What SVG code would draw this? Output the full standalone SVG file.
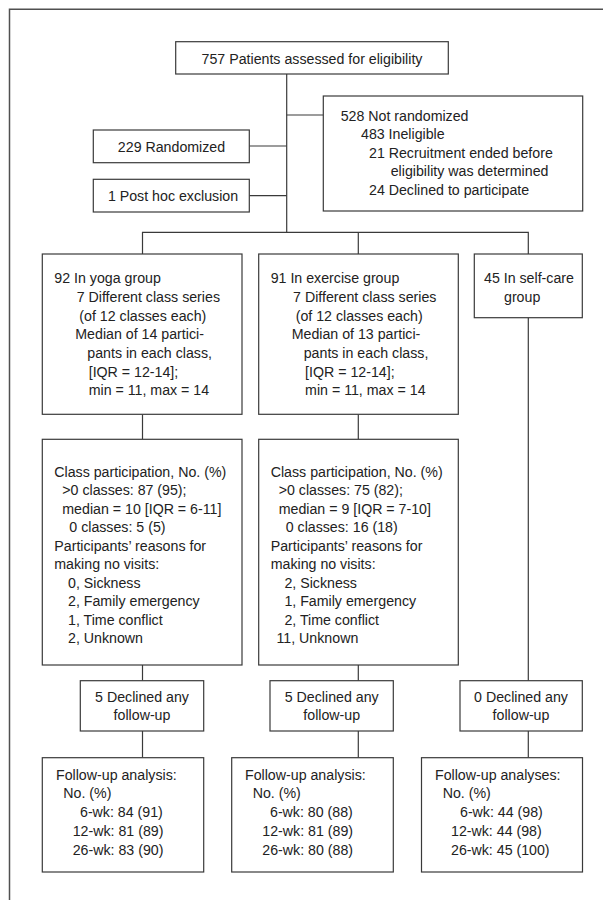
<svg xmlns="http://www.w3.org/2000/svg" width="603" height="900" viewBox="0 0 603 900">
<style>
  .box { fill: #ffffff; stroke: #3a3a3a; stroke-width: 1.2; }
  .ln { fill: none; stroke: #3a3a3a; stroke-width: 1.2; }
  .frame { fill: none; stroke: #505050; stroke-width: 1.5; }
  text { font-family: "Liberation Sans", Arial, sans-serif; font-size: 15px; fill: #222222; }
  .c { text-anchor: middle; }
</style>
<rect x="0" y="0" width="603" height="900" fill="#ffffff"/>
<path class="frame" d="M9.5,900 V9.2 H603"/>

<g id="connectors">
  <path class="ln" d="M286.7,74 V232.3"/>
  <path class="ln" d="M286.7,115 H323.3"/>
  <path class="ln" d="M249.3,146 H286.7"/>
  <path class="ln" d="M249.3,195.7 H286.7"/>
  <path class="ln" d="M142.5,254 V232.3 H528.3 V254"/>
  <path class="ln" d="M358.3,232.3 V254"/>
  <path class="ln" d="M142.5,414.3 V439.3"/>
  <path class="ln" d="M142.5,665 V680.7"/>
  <path class="ln" d="M142.5,731 V757.7"/>
  <path class="ln" d="M358.3,414.3 V439.3"/>
  <path class="ln" d="M358.3,665 V680.7"/>
  <path class="ln" d="M358.3,731 V757.7"/>
  <path class="ln" d="M528.3,317.7 V680.7"/>
  <path class="ln" d="M528.3,731 V757.7"/>
</g>

<g id="assessed">
  <rect class="box" x="175.7" y="41.7" width="272.6" height="32.3"/>
  <text class="c" x="0" y="64" transform="matrix(0.947,0,0,1,312,0)">757 Patients assessed for eligibility</text>
</g>

<g id="not-randomized">
  <rect class="box" x="323.3" y="96" width="259.4" height="115"/>
  <text x="0" y="120.7" transform="matrix(0.947,0,0,1,340.7,0)">528 Not randomized</text>
  <text x="0" y="139.3" transform="matrix(0.947,0,0,1,361,0)">483 Ineligible</text>
  <text x="0" y="157.9" transform="matrix(0.947,0,0,1,369,0)">21 Recruitment ended before</text>
  <text x="0" y="176.5" transform="matrix(0.947,0,0,1,390.7,0)">eligibility was determined</text>
  <text x="0" y="195.1" transform="matrix(0.947,0,0,1,369,0)">24 Declined to participate</text>
</g>

<g id="randomized">
  <rect class="box" x="93.3" y="130" width="156" height="32.7"/>
  <text class="c" x="0" y="152" transform="matrix(0.947,0,0,1,171.5,0)">229 Randomized</text>
</g>

<g id="post-hoc">
  <rect class="box" x="93.3" y="179.3" width="156" height="32.7"/>
  <text class="c" x="0" y="201.5" transform="matrix(0.947,0,0,1,173,0)">1 Post hoc exclusion</text>
</g>

<g id="yoga">
  <rect class="box" x="42.3" y="254" width="199.7" height="160.3"/>
  <text x="0" y="283.3" transform="matrix(0.947,0,0,1,54.3,0)">92 In yoga group</text>
  <text x="0" y="302" transform="matrix(0.947,0,0,1,76.7,0)">7 Different class series</text>
  <text x="0" y="320.7" transform="matrix(0.947,0,0,1,79.3,0)">(of 12 classes each)</text>
  <text x="0" y="339.4" transform="matrix(0.947,0,0,1,75.3,0)">Median of 14 partici-</text>
  <text x="0" y="358.1" transform="matrix(0.947,0,0,1,87.3,0)">pants in each class,</text>
  <text x="0" y="376.8" transform="matrix(0.947,0,0,1,88.7,0)">[IQR = 12-14];</text>
  <text x="0" y="395.5" transform="matrix(0.947,0,0,1,88.7,0)">min = 11, max = 14</text>
</g>

<g id="exercise">
  <rect class="box" x="258.7" y="254" width="199.6" height="160.3"/>
  <text x="0" y="283.3" transform="matrix(0.947,0,0,1,270.7,0)">91 In exercise group</text>
  <text x="0" y="302" transform="matrix(0.947,0,0,1,293.1,0)">7 Different class series</text>
  <text x="0" y="320.7" transform="matrix(0.947,0,0,1,295.7,0)">(of 12 classes each)</text>
  <text x="0" y="339.4" transform="matrix(0.947,0,0,1,291.7,0)">Median of 13 partici-</text>
  <text x="0" y="358.1" transform="matrix(0.947,0,0,1,303.7,0)">pants in each class,</text>
  <text x="0" y="376.8" transform="matrix(0.947,0,0,1,305.1,0)">[IQR = 12-14];</text>
  <text x="0" y="395.5" transform="matrix(0.947,0,0,1,305.1,0)">min = 11, max = 14</text>
</g>

<g id="self-care">
  <rect class="box" x="474.3" y="254" width="108" height="63.7"/>
  <text x="0" y="283.3" transform="matrix(0.947,0,0,1,484,0)">45 In self-care</text>
  <text x="0" y="302" transform="matrix(0.947,0,0,1,504,0)">group</text>
</g>

<g id="yoga-participation">
  <rect class="box" x="42.3" y="439.3" width="199.7" height="225.7"/>
  <text x="0" y="477" transform="matrix(0.947,0,0,1,54.3,0)">Class participation, No. (%)</text>
  <text x="0" y="495.5" transform="matrix(0.947,0,0,1,62.3,0)">&gt;0 classes: 87 (95);</text>
  <text x="0" y="514" transform="matrix(0.947,0,0,1,62.3,0)">median = 10 [IQR = 6-11]</text>
  <text x="0" y="532.5" transform="matrix(0.947,0,0,1,69.3,0)">0 classes: 5 (5)</text>
  <text x="0" y="551" transform="matrix(0.947,0,0,1,54.3,0)">Participants’ reasons for</text>
  <text x="0" y="569.5" transform="matrix(0.947,0,0,1,54.3,0)">making no visits:</text>
  <text x="0" y="588" transform="matrix(0.947,0,0,1,68,0)">0, Sickness</text>
  <text x="0" y="606.5" transform="matrix(0.947,0,0,1,68,0)">2, Family emergency</text>
  <text x="0" y="625" transform="matrix(0.947,0,0,1,68,0)">1, Time conflict</text>
  <text x="0" y="643.5" transform="matrix(0.947,0,0,1,68,0)">2, Unknown</text>
</g>

<g id="exercise-participation">
  <rect class="box" x="258.7" y="439.3" width="199.6" height="225.7"/>
  <text x="0" y="477" transform="matrix(0.947,0,0,1,270.7,0)">Class participation, No. (%)</text>
  <text x="0" y="495.5" transform="matrix(0.947,0,0,1,278.7,0)">&gt;0 classes: 75 (82);</text>
  <text x="0" y="514" transform="matrix(0.947,0,0,1,278.7,0)">median = 9 [IQR = 7-10]</text>
  <text x="0" y="532.5" transform="matrix(0.947,0,0,1,285.7,0)">0 classes: 16 (18)</text>
  <text x="0" y="551" transform="matrix(0.947,0,0,1,270.7,0)">Participants’ reasons for</text>
  <text x="0" y="569.5" transform="matrix(0.947,0,0,1,270.7,0)">making no visits:</text>
  <text x="0" y="588" transform="matrix(0.947,0,0,1,284.4,0)">2, Sickness</text>
  <text x="0" y="606.5" transform="matrix(0.947,0,0,1,284.4,0)">1, Family emergency</text>
  <text x="0" y="625" transform="matrix(0.947,0,0,1,284.4,0)">2, Time conflict</text>
  <text x="0" y="643.5" transform="matrix(0.947,0,0,1,276.5,0)">11, Unknown</text>
</g>

<g id="yoga-declined">
  <rect class="box" x="80.3" y="680.7" width="123.4" height="50.3"/>
  <text class="c" x="0" y="702" transform="matrix(0.947,0,0,1,142,0)">5 Declined any</text>
  <text class="c" x="0" y="720" transform="matrix(0.947,0,0,1,142,0)">follow-up</text>
</g>

<g id="exercise-declined">
  <rect class="box" x="270" y="680.7" width="123.3" height="50.3"/>
  <text class="c" x="0" y="702" transform="matrix(0.947,0,0,1,331.7,0)">5 Declined any</text>
  <text class="c" x="0" y="720" transform="matrix(0.947,0,0,1,331.7,0)">follow-up</text>
</g>

<g id="self-care-declined">
  <rect class="box" x="460" y="680.7" width="122.3" height="50.3"/>
  <text class="c" x="0" y="702" transform="matrix(0.947,0,0,1,521,0)">0 Declined any</text>
  <text class="c" x="0" y="720" transform="matrix(0.947,0,0,1,521,0)">follow-up</text>
</g>

<g id="yoga-followup">
  <rect class="box" x="42.3" y="757.7" width="161.4" height="114.3"/>
  <text x="0" y="780" transform="matrix(0.947,0,0,1,56,0)">Follow-up analysis:</text>
  <text x="0" y="798.5" transform="matrix(0.947,0,0,1,63.3,0)">No. (%)</text>
  <text x="0" y="817.5" transform="matrix(0.947,0,0,1,80,0)">6-wk: 84 (91)</text>
  <text x="0" y="836.5" transform="matrix(0.947,0,0,1,72.7,0)">12-wk: 81 (89)</text>
  <text x="0" y="855.5" transform="matrix(0.947,0,0,1,72.7,0)">26-wk: 83 (90)</text>
</g>

<g id="exercise-followup">
  <rect class="box" x="231.7" y="757.7" width="161.6" height="114.3"/>
  <text x="0" y="780" transform="matrix(0.947,0,0,1,245,0)">Follow-up analysis:</text>
  <text x="0" y="798.5" transform="matrix(0.947,0,0,1,252.7,0)">No. (%)</text>
  <text x="0" y="817.5" transform="matrix(0.947,0,0,1,270,0)">6-wk: 80 (88)</text>
  <text x="0" y="836.5" transform="matrix(0.947,0,0,1,262.3,0)">12-wk: 81 (89)</text>
  <text x="0" y="855.5" transform="matrix(0.947,0,0,1,262.3,0)">26-wk: 80 (88)</text>
</g>

<g id="self-care-followup">
  <rect class="box" x="421.5" y="757.7" width="161" height="114.3"/>
  <text x="0" y="780" transform="matrix(0.947,0,0,1,435,0)">Follow-up analyses:</text>
  <text x="0" y="798.5" transform="matrix(0.947,0,0,1,442.7,0)">No. (%)</text>
  <text x="0" y="817.5" transform="matrix(0.947,0,0,1,460,0)">6-wk: 44 (98)</text>
  <text x="0" y="836.5" transform="matrix(0.947,0,0,1,451,0)">12-wk: 44 (98)</text>
  <text x="0" y="855.5" transform="matrix(0.947,0,0,1,451,0)">26-wk: 45 (100)</text>
</g>
</svg>
